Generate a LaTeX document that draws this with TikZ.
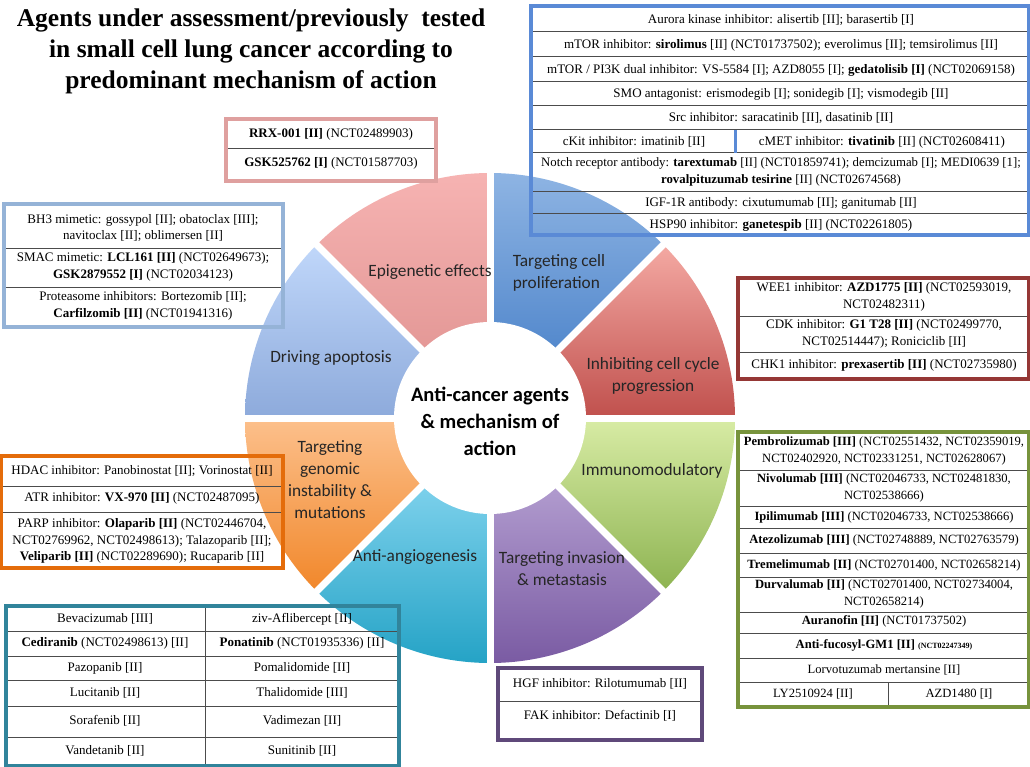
\documentclass[tikz,border=0pt]{standalone}
\usepackage{fontspec}
\setmainfont{Liberation Serif}
\newfontfamily\wheelfont{Carlito}
\usetikzlibrary{calc}
\definecolor{epiT}{HTML}{F6B3B2}\definecolor{epiB}{HTML}{DD8E8C}
\definecolor{proT}{HTML}{8EB4E3}\definecolor{proB}{HTML}{3D78C4}
\definecolor{cycT}{HTML}{F4A9A3}\definecolor{cycB}{HTML}{C0504D}
\definecolor{immT}{HTML}{D8ECA5}\definecolor{immB}{HTML}{8DB351}
\definecolor{invT}{HTML}{C6B4DF}\definecolor{invB}{HTML}{7A5BA3}
\definecolor{angT}{HTML}{9EE2FA}\definecolor{angB}{HTML}{25A3C6}
\definecolor{genT}{HTML}{FCC08C}\definecolor{genB}{HTML}{F1872A}
\definecolor{apoT}{HTML}{C0D7FA}\definecolor{apoB}{HTML}{8DAADB}
\definecolor{blueF}{HTML}{5A8AD6}
\definecolor{pinkF}{HTML}{DFA09F}
\definecolor{lbF}{HTML}{95B3D7}
\definecolor{redF}{HTML}{953735}
\definecolor{greenF}{HTML}{77933C}
\definecolor{orangeF}{HTML}{E46C0A}
\definecolor{tealF}{HTML}{31849B}
\definecolor{purpleF}{HTML}{5F497A}
\begin{document}
\begin{tikzpicture}[x=1pt,y=-1pt,
  cell/.style={font=\fontsize{13}{16.5}\selectfont, align=center, inner sep=0pt, text=black},
  gcell/.style={cell, font=\fontsize{12.6}{16.5}\selectfont},
  rowline/.style={draw=black!70, line width=1pt},
  frame/.style={line width=4pt},
  wlabel/.style={font=\wheelfont\fontsize{17.3}{22}\selectfont, align=center, text=black!85, inner sep=0pt},
  sector/.style={draw=none}]
\useasboundingbox (0,0) rectangle (1030,767);
\fill[white] (0,0) rectangle (1030,767);

% ---------- wheel ----------
\begin{scope}[shift={(490pt,-418pt)}, x=1pt, y=1pt]
  \shade[sector, top color=epiT, bottom color=epiB] (0,0) -- (90:245) arc[start angle=90, end angle=135, radius=245] -- cycle;
  \shade[sector, top color=proT, bottom color=proB] (0,0) -- (45:245) arc[start angle=45, end angle=90, radius=245] -- cycle;
  \shade[sector, top color=cycT, bottom color=cycB] (0,0) -- (0:245) arc[start angle=0, end angle=45, radius=245] -- cycle;
  \shade[sector, top color=immT, bottom color=immB] (0,0) -- (-45:245) arc[start angle=-45, end angle=0, radius=245] -- cycle;
  \shade[sector, top color=invT, bottom color=invB] (0,0) -- (-90:245) arc[start angle=-90, end angle=-45, radius=245] -- cycle;
  \shade[sector, top color=angT, bottom color=angB] (0,0) -- (-135:245) arc[start angle=-135, end angle=-90, radius=245] -- cycle;
  \shade[sector, top color=genT, bottom color=genB] (0,0) -- (180:245) arc[start angle=180, end angle=225, radius=245] -- cycle;
  \shade[sector, top color=apoT, bottom color=apoB] (0,0) -- (135:245) arc[start angle=135, end angle=180, radius=245] -- cycle;
  \foreach \a in {0,45,...,315} \draw[white, line width=7pt] (0,0) -- (\a:252);
  \fill[white] (0,0) circle[radius=96];
\end{scope}

% wheel labels
\node[wlabel] (lepi) at (430,272) {Epigenetic effects};
\node[wlabel, align=left] (lpro) at (559,273) {Targeting cell\\proliferation};
\node[wlabel] (lcyc) at (653,376) {Inhibiting cell cycle\\progression};
\node[wlabel] (limm) at (652,471) {Immunomodulatory};
\node[wlabel] (linv) at (562,569) {Targeting invasion\\\& metastasis};
\node[wlabel] (lang) at (415,557) {Anti-angiogenesis};
\node[wlabel] (lgen) at (330,480) {Targeting\\genomic\\instability \&\\mutations};
\node[wlabel] (lapo) at (331,358) {Driving apoptosis};
\node[font=\wheelfont\bfseries\fontsize{20.5}{27}\selectfont, align=center, inner sep=0pt] (center) at (490,421) {Anti-cancer agents\\\& mechanism of\\action};

% ---------- title ----------
\node[font=\bfseries\fontsize{25.5}{31}\selectfont, align=center, inner sep=0pt] (title) at (251,51)
  {Agents under assessment/previously\ \ tested\\in small cell lung cancer according to\\predominant mechanism of action};

% ---------- proliferation box ----------
\foreach \y in {32,57,82,106,130,153,192,214} \draw[rowline] (533,\y) -- (1028,\y);
\draw[blueF, line width=3pt] (735,130) -- (735,153);
\draw[frame, blueF] (531,6) rectangle (1029,235);
\node[cell] (aur) at (781,20) {Aurora kinase inhibitor: alisertib [II]; barasertib [I]};
\node[cell] (mtor) at (781,45) {mTOR inhibitor: \textbf{sirolimus} [II] (NCT01737502); everolimus [II]; temsirolimus [II]};
\node[cell] (pi3k) at (781,70) {mTOR / PI3K dual inhibitor: VS-5584 [I]; AZD8055 [I]; \textbf{gedatolisib [I]} (NCT02069158)};
\node[cell] (smo) at (781,94) {SMO antagonist: erismodegib [I]; sonidegib [I]; vismodegib [II]};
\node[cell] (src) at (781,118) {Src inhibitor: saracatinib [II], dasatinib [II]};
\node[cell] (ckit) at (634,142) {cKit inhibitor: imatinib [II]};
\node[cell] (cmet) at (882,142) {cMET inhibitor: \textbf{tivatinib} [II] (NCT02608411)};
\node[cell, font=\fontsize{12.8}{17}\selectfont] (notch) at (781,172) {Notch receptor antibody: \textbf{tarextumab} [II] (NCT01859741); demcizumab [I]; MEDI0639 [1];\\\textbf{rovalpituzumab tesirine} [II] (NCT02674568)};
\node[cell] (igf) at (781,203) {IGF-1R antibody: cixutumumab [II]; ganitumab [II]};
\node[cell] (hsp) at (781,225) {HSP90 inhibitor: \textbf{ganetespib} [II] (NCT02261805)};

% ---------- epigenetic box ----------
\draw[rowline] (228,149) -- (434,149);
\draw[frame, pinkF] (226,119) rectangle (436,181);
\node[cell] (rrx) at (331,134) {\textbf{RRX-001 [II]} (NCT02489903)};
\node[cell] (gsk) at (331,163) {\textbf{GSK525762 [I]} (NCT01587703)};

% ---------- apoptosis box ----------
\foreach \y in {249,287} \draw[rowline] (6,\y) -- (281,\y);
\draw[frame, lbF] (4,204) rectangle (283,327);
\node[cell] (bh3) at (143,228) {BH3 mimetic: gossypol [II]; obatoclax [III];\\navitoclax [II]; oblimersen [II]};
\node[cell] (smac) at (143,267) {SMAC mimetic: \textbf{LCL161 [II]} (NCT02649673);\\\textbf{GSK2879552 [I]} (NCT02034123)};
\node[cell] (prot) at (143,306) {Proteasome inhibitors: Bortezomib [II];\\\textbf{Carfilzomib [II]} (NCT01941316)};

% ---------- cell cycle box ----------
\foreach \y in {316,352} \draw[rowline] (740,\y) -- (1028,\y);
\draw[frame, redF] (738,278) rectangle (1029,379);
\node[cell] (wee) at (884,297) {WEE1 inhibitor: \textbf{AZD1775 [II]} (NCT02593019,\\NCT02482311)};
\node[cell] (cdk) at (884,334) {CDK inhibitor: \textbf{G1 T28 [II]} (NCT02499770,\\NCT02514447); Roniciclib [II]};
\node[cell] (chk) at (884,365) {CHK1 inhibitor: \textbf{prexasertib [II]} (NCT02735980)};

% ---------- immunomodulatory box ----------
\foreach \y in {470,506,528,553,577,612,633,658,682} \draw[rowline] (740,\y) -- (1028,\y);
\draw[rowline] (888,682) -- (888,706);
\draw[frame, greenF] (738,432) rectangle (1029,707);
\node[gcell] (pem) at (884,451) {\textbf{Pembrolizumab [III]} (NCT02551432, NCT02359019,\\NCT02402920, NCT02331251, NCT02628067)};
\node[gcell] (niv) at (884,488) {\textbf{Nivolumab [III]} (NCT02046733, NCT02481830,\\NCT02538666)};
\node[gcell] (ipi) at (884,517) {\textbf{Ipilimumab [III]} (NCT02046733, NCT02538666)};
\node[gcell] (ate) at (884,540) {\textbf{Atezolizumab [III]} (NCT02748889, NCT02763579)};
\node[gcell] (tre) at (884,565) {\textbf{Tremelimumab [II]} (NCT02701400, NCT02658214)};
\node[gcell] (dur) at (884,594) {\textbf{Durvalumab [II]} (NCT02701400, NCT02734004,\\NCT02658214)};
\node[gcell] (aura) at (884,621) {\textbf{Auranofin [II]} (NCT01737502)};
\node[gcell] (fuc) at (884,645) {\textbf{Anti-fucosyl-GM1 [II]} {\fontsize{8}{10}\selectfont\textbf{(NCT02247349)}}};
\node[gcell] (lor) at (884,670) {Lorvotuzumab mertansine [II]};
\node[gcell] (ly) at (813,694) {LY2510924 [II]};
\node[gcell] (azd) at (959,694) {AZD1480 [I]};

% ---------- genomic box ----------
\foreach \y in {486,512} \draw[rowline] (3,\y) -- (281,\y);
\draw[frame, orangeF] (1,456) rectangle (283,568);
\node[cell] (hdac) at (142,471) {HDAC inhibitor: Panobinostat [II]; Vorinostat [II]};
\node[cell] (atr) at (142,498) {ATR inhibitor: \textbf{VX-970 [II]} (NCT02487095)};
\node[cell] (parp) at (142,541) {PARP inhibitor: \textbf{Olaparib [II]} (NCT02446704,\\NCT02769962, NCT02498613); Talazoparib [II];\\\textbf{Veliparib [II]} (NCT02289690); Rucaparib [II]};

% ---------- angiogenesis box ----------
\foreach \y in {631,656,680,706,737} \draw[rowline] (8,\y) -- (397,\y);
\draw[rowline] (205,606) -- (205,766);
\draw[frame, tealF] (6,606) rectangle (399,766);
\node[cell] (bev) at (105,619) {Bevacizumab [III]};
\node[cell] (ziv) at (302,619) {ziv-Aflibercept [II]};
\node[cell] (ced) at (105,643) {\textbf{Cediranib} (NCT02498613) [II]};
\node[cell] (pon) at (302,643) {\textbf{Ponatinib} (NCT01935336) [II]};
\node[cell] (paz) at (105,668) {Pazopanib [II]};
\node[cell] (pom) at (302,668) {Pomalidomide [II]};
\node[cell] (luc) at (105,693) {Lucitanib [II]};
\node[cell] (tha) at (302,693) {Thalidomide [III]};
\node[cell] (sor) at (105,721) {Sorafenib [II]};
\node[cell] (vad) at (302,721) {Vadimezan [II]};
\node[cell] (van) at (105,751) {Vandetanib [II]};
\node[cell] (sun) at (302,751) {Sunitinib [II]};

% ---------- invasion box ----------
\draw[rowline] (500,701) -- (700,701);
\draw[frame, purpleF] (498,668) rectangle (702,740);
\node[cell] (hgf) at (600,684) {HGF inhibitor: Rilotumumab [II]};
\node[cell] (fak) at (600,716) {FAK inhibitor: Defactinib [I]};
\end{tikzpicture}
\end{document}
